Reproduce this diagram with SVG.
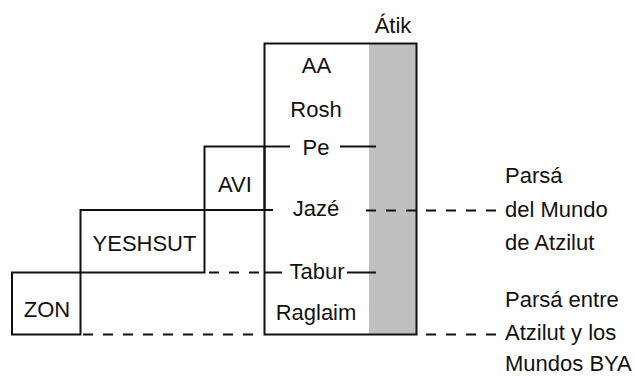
<svg xmlns="http://www.w3.org/2000/svg" width="635" height="383" viewBox="0 0 635 383">
<style>
.box{fill:none;stroke:#111;stroke-width:2}
.ln{stroke:#111;stroke-width:2;fill:none}
.dash{stroke:#111;stroke-width:2;fill:none;stroke-dasharray:10 10}
text{font-family:"Liberation Sans",Arial,sans-serif;font-size:22px;fill:#111}
.c{text-anchor:middle}
</style>
<rect width="635" height="383" fill="#fff"/>
<g id="AA">
<rect x="369" y="44" width="47.5" height="290.5" fill="#c0c0c0"/>
<rect class="box" x="264.5" y="43.5" width="152" height="291"/>
<text class="c" x="316.5" y="73">AA</text>
<text class="c" x="316" y="117">Rosh</text>
<text class="c" x="316" y="155">Pe</text>
<text class="c" x="316" y="216">Jazé</text>
<text class="c" x="317" y="279">Tabur</text>
<text class="c" x="316" y="320">Raglaim</text>
</g>
<g id="Atik"><text class="c" x="393" y="33">Átik</text></g>
<g id="AVI">
<rect class="box" x="204.5" y="146.5" width="60" height="63.5"/>
<text class="c" x="235" y="191.5">AVI</text>
</g>
<g id="YESHSUT">
<rect class="box" x="80.5" y="210" width="124" height="62.5"/>
<text class="c" x="144.5" y="251">YESHSUT</text>
</g>
<g id="ZON">
<rect class="box" x="12" y="272.5" width="68.5" height="62"/>
<text class="c" x="47" y="316.5">ZON</text>
</g>
<g id="parsa1">
<text x="505" y="183">Parsá</text>
<text x="505" y="216.5">del Mundo</text>
<text x="505" y="250">de Atzilut</text>
</g>
<g id="parsa2">
<text x="505" y="307">Parsá entre</text>
<text x="505" y="340">Atzilut y los</text>
<text x="505" y="371">Mundos BYA</text>
</g>
<g id="connectors">
<line class="ln" x1="264.5" y1="146.5" x2="290" y2="146.5"/>
<line class="ln" x1="340" y1="146.5" x2="376" y2="146.5"/>
<line class="ln" x1="264.5" y1="210" x2="273" y2="210"/>
<line class="dash" x1="366" y1="210.5" x2="497" y2="210.5"/>
<line class="dash" x1="209" y1="272.5" x2="260" y2="272.5"/>
<line class="ln" x1="264.5" y1="272.5" x2="282" y2="272.5"/>
<line class="ln" x1="347" y1="272.5" x2="376" y2="272.5"/>
<line class="dash" x1="83" y1="334.5" x2="263" y2="334.5"/>
<line class="dash" x1="426" y1="334.5" x2="497" y2="334.5"/>
</g>
</svg>
